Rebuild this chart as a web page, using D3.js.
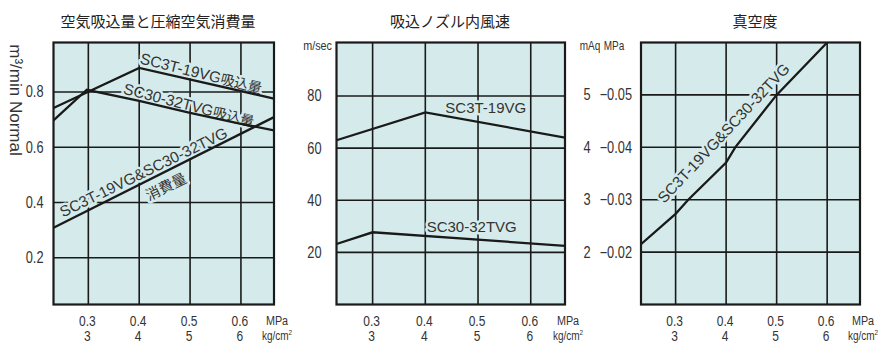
<!DOCTYPE html>
<html><head><meta charset="utf-8">
<script src="https://cdn.jsdelivr.net/npm/d3@7"></script>
<style>body{margin:0;background:#fff}</style>
</head><body><svg id="c" width="878" height="344"></svg>
<script>
// ---------- shared x axis ----------
const pressureTicks = [0.3, 0.4, 0.5, 0.6];
const pressureLabels = ["0.3", "0.4", "0.5", "0.6"];
const kgfLabels = ["3", "4", "5", "6"];
const pressureDomain = [0.2315, 0.665];

// ---------- panel 1 : suction & consumption ----------
const p1Title = "空気吸込量と圧縮空気消費量";
const p1YTicks = [0.2, 0.4, 0.6, 0.8];
const p1YLabels = ["0.2", "0.4", "0.6", "0.8"];
const p1YDomain = [0.031, 0.979];
const sc3tSuctionP = [0.2315, 0.4, 0.665];
const sc3tSuction = [0.742, 0.887, 0.776];
const sc30SuctionP = [0.2315, 0.297, 0.4, 0.5, 0.6, 0.665];
const sc30Suction = [0.697, 0.808, 0.768, 0.724, 0.685, 0.661];
const consumptionP = [0.2315, 0.665];
const consumption = [0.309, 0.709];

// ---------- panel 2 : nozzle velocity ----------
const p2Title = "吸込ノズル内風速";
const p2YTicks = [20, 40, 60, 80];
const p2YLabels = ["20", "40", "60", "80"];
const p2YDomain = [0, 100.5];
const sc3tVelP = [0.2315, 0.4, 0.665];
const sc3tVel = [63, 73.7, 64];
const sc30VelP = [0.2315, 0.3, 0.665];
const sc30Vel = [23.2, 27.7, 22.5];

// ---------- panel 3 : vacuum ----------
const p3Title = "真空度";
const p3YTicks = [2, 3, 4, 5];
const p3YLabels = ["2", "3", "4", "5"];
const p3YMPa = ["−0.02", "−0.03", "−0.04", "−0.05"];
const p3YDomain = [1, 6];
const vacuumP = [0.2315, 0.3, 0.325, 0.4, 0.418, 0.5, 0.6];
const vacuum = [2.15, 2.73, 3.0, 3.71, 4.0, 5.0, 6.0];

// ---------- styling ----------
const BG = "#d5ebeb";
const INK = "#1a1a1a";
const TXT = "#333";
const SANS = "'Liberation Sans',Arial,sans-serif";
const CJK = "'Noto Sans CJK JP','Noto Sans',sans-serif";
const SQUEEZE = 0.8;

const svg = d3.select("#c");

// condensed text helper
function ntext(sel, x, y, s, size, anchor) {
  return sel.append("text")
    .attr("transform", `translate(${x},${y}) scale(${SQUEEZE},1)`)
    .attr("text-anchor", anchor || "middle").attr("dominant-baseline", "central")
    .attr("font-family", SANS).attr("font-size", size).attr("fill", TXT).text(s);
}

const panels = [
  { left: 53.5, right: 274, title: p1Title, titleX: 158, yTicks: p1YTicks, yLabels: p1YLabels, yDomain: p1YDomain,
    series: [[sc3tSuctionP, sc3tSuction], [sc30SuctionP, sc30Suction], [consumptionP, consumption]],
    labels: [
      { parts: [["SC3T-19VG", 15.4], ["吸込量", 14]], p: 0.522, v: 0.870, a: 14 },
      { parts: [["SC30-32TVG", 15.4], ["吸込量", 14]], p: 0.498, v: 0.755, a: 14.5 },
      { parts: [["SC3T-19VG&SC30-32TVG", 15.3]], p: 0.408, v: 0.512, a: -26 },
      { parts: [["消費量", 14.5]], p: 0.451, v: 0.463, a: -26 }
    ] },
  { left: 336.5, right: 565, title: p2Title, titleX: 450, yTicks: p2YTicks, yLabels: p2YLabels, yDomain: p2YDomain,
    series: [[sc3tVelP, sc3tVel], [sc30VelP, sc30Vel]],
    labels: [
      { parts: [["SC3T-19VG", 15]], p: 0.5147, v: 75.8, a: 0 },
      { parts: [["SC30-32TVG", 15]], p: 0.488, v: 30.2, a: 0 }
    ] },
  { left: 641, right: 860, title: p3Title, titleX: 755, yTicks: p3YTicks, yLabels: p3YLabels, yDomain: p3YDomain,
    series: [[vacuumP, vacuum]],
    labels: [
      { parts: [["SC3T-19VG&SC30-32TVG", 15.3]], p: 0.394, v: 4.28, a: -46.8 }
    ] }
];

const TOP = 42.5, BOTTOM = 304.5;

panels.forEach((P, i) => {
  const x = d3.scaleLinear().domain(pressureDomain).range([P.left, P.right]);
  const y = d3.scaleLinear().domain(P.yDomain).range([BOTTOM, TOP]);
  const g = svg.append("g");

  // title
  g.append("text").attr("x", P.titleX).attr("y", 20).attr("text-anchor", "middle")
    .attr("dominant-baseline", "central").attr("font-family", CJK).attr("font-size", 15)
    .attr("fill", "#222").text(P.title);

  // background
  g.append("rect").attr("x", P.left).attr("y", TOP).attr("width", P.right - P.left)
    .attr("height", BOTTOM - TOP).attr("fill", BG);

  const clipId = "clip" + i;
  g.append("clipPath").attr("id", clipId).append("rect")
    .attr("x", P.left).attr("y", TOP).attr("width", P.right - P.left).attr("height", BOTTOM - TOP);

  // grid
  g.append("g").selectAll("line").data(pressureTicks).join("line")
    .attr("x1", d => x(d)).attr("x2", d => x(d)).attr("y1", TOP).attr("y2", BOTTOM)
    .attr("stroke", INK).attr("stroke-width", 1.6);
  g.append("g").selectAll("line").data(P.yTicks).join("line")
    .attr("y1", d => y(d)).attr("y2", d => y(d)).attr("x1", P.left).attr("x2", P.right)
    .attr("stroke", INK).attr("stroke-width", 1.6);

  // labels (with halo that hides gridlines)
  const lg = g.append("g").attr("clip-path", `url(#${clipId})`);
  P.labels.forEach(L => {
    const t = lg.append("text")
      .attr("transform", `translate(${x(L.p)},${y(L.v)}) rotate(${L.a})`)
      .attr("text-anchor", "middle").attr("dominant-baseline", "central")
      .attr("fill", TXT).attr("stroke", BG).attr("stroke-width", 5)
      .attr("stroke-linejoin", "round").attr("paint-order", "stroke");
    L.parts.forEach(([s, fs]) => {
      t.append("tspan").attr("font-size", fs)
        .attr("font-family", /[\u3000-\u9fff]/.test(s) ? CJK : SANS).text(s);
    });
  });

  // series
  const line = d3.line().x(d => x(d[0])).y(d => y(d[1]));
  g.append("g").attr("clip-path", `url(#${clipId})`).selectAll("path")
    .data(P.series.map(([px, py]) => d3.zip(px, py))).join("path")
    .attr("d", line).attr("fill", "none").attr("stroke", INK)
    .attr("stroke-width", 2.3).attr("stroke-linejoin", "miter");

  // border
  g.append("rect").attr("x", P.left).attr("y", TOP).attr("width", P.right - P.left)
    .attr("height", BOTTOM - TOP).attr("fill", "none").attr("stroke", INK).attr("stroke-width", 2.2);

  // x tick labels
  pressureTicks.forEach((d, k) => {
    ntext(g, x(d) - 1, 321, pressureLabels[k], 15);
    ntext(g, x(d) - 1, 336, kgfLabels[k], 15);
  });
  ntext(g, P.right + 3, 321, "MPa", 13.5);
  const kg = ntext(g, P.right + 3, 336, "", 12.5);
  kg.append("tspan").text("kg/cm");
  kg.append("tspan").attr("font-size", 8).attr("dy", -4).text("2");

  // y tick labels
  if (i === 2) {
    P.yTicks.forEach((d, k) => {
      ntext(g, 587, y(d), P.yLabels[k], 16);
      ntext(g, 632, y(d), p3YMPa[k], 16, "end");
    });
    ntext(g, 590, 46, "mAq", 12.5);
    ntext(g, 614, 46, "MPa", 12.5);
  } else {
    P.yTicks.forEach((d, k) => {
      ntext(g, P.left - (i === 0 ? 10 : 15), y(d), P.yLabels[k], 16, "end");
    });
  }
  if (i === 1) ntext(g, 332, 46, "m/sec", 13.5, "end");
  if (i === 0) {
    g.append("text").attr("transform", "translate(15,100) rotate(90)")
      .attr("text-anchor", "middle").attr("dominant-baseline", "central")
      .attr("font-family", SANS).attr("font-size", 17).attr("fill", TXT).text("m³/min Normal");
  }
});
</script>
</body></html>
